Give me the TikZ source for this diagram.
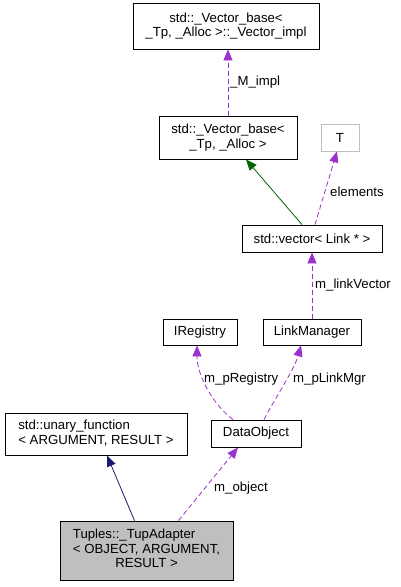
\documentclass[tikz,border=0pt]{standalone}
\usepackage{fontspec}
\setmainfont{Liberation Sans}
\usetikzlibrary{arrows.meta}
\definecolor{edgepurple}{HTML}{9A32CD}
\definecolor{edgegreen}{HTML}{006400}
\definecolor{edgenavy}{HTML}{191970}
\definecolor{boxgray}{HTML}{BFBFBF}
\begin{document}
\begin{tikzpicture}[x=1pt,y=1pt,
  every node/.style={font=\fontsize{13.2}{14.5}\selectfont},
  cls/.style={draw=black,line width=0.8pt,rectangle,inner sep=0pt,anchor=center},
  usage/.style={draw=edgepurple,line width=0.8pt,dash pattern=on 5pt off 3pt,fill=none},
  inherit/.style={line width=0.8pt},
  lbl/.style={anchor=west,inner sep=0pt}]
\useasboundingbox (0,0) rectangle (400,-587);

\node[cls,minimum width=186pt,minimum height=46pt,align=center] (impl) at (226,-26) {std::\_Vector\_base<\\\_Tp, \_Alloc >::\_Vector\_impl};
\node[cls,minimum width=138pt,minimum height=43pt,align=center] (base) at (228,-137.5) {std::\_Vector\_base<\\\_Tp, \_Alloc >};
\node[cls,draw=boxgray,minimum width=38pt,minimum height=27pt] (T) at (340,-137.5) {T};
\node[cls,minimum width=140pt,minimum height=27pt] (vec) at (312,-238.5) {std::vector< Link * >};
\node[cls,minimum width=74pt,minimum height=26pt] (ireg) at (200,-332) {IRegistry};
\node[cls,minimum width=98pt,minimum height=26pt] (lm) at (312,-332) {LinkManager};
\node[cls,minimum width=182pt,minimum height=42pt] (un) at (96,-434) {\begin{tabular}{@{}l@{}}std::unary\_function\\< ARGUMENT, RESULT >\end{tabular}};
\node[cls,minimum width=90pt,minimum height=27pt] (do) at (256,-433.5) {DataObject};
\node[cls,fill=boxgray,minimum width=173pt,minimum height=59pt] (tup) at (146.5,-550.5) {\begin{tabular}{@{}l@{}}Tuples::\_TupAdapter\\< OBJECT, ARGUMENT,\\\multicolumn{1}{@{}c@{}}{RESULT >}\end{tabular}};

\draw[usage,-{Triangle[length=11pt,width=9pt,fill=edgepurple]}] (base.north) -- (base.north |- impl.south);
\node[lbl] (limpl) at (230,-82) {\_M\_impl};

\draw[inherit,draw=edgegreen,-{Triangle[length=11pt,width=9pt,fill=edgegreen]}] ([xshift=-10pt]vec.north) -- ([xshift=18pt]base.south);

\draw[usage,-{Triangle[length=11pt,width=9pt,fill=edgepurple]}] ([xshift=3pt]vec.north) -- ([xshift=-3pt]T.south);
\node[lbl] (lel) at (330,-192) {elements};

\draw[usage,-{Triangle[length=11pt,width=9pt,fill=edgepurple]}] (lm.north) -- (vec.south);
\node[lbl] (llv) at (315,-285) {m\_linkVector};

\draw[usage,-{Triangle[length=11pt,width=9pt,fill=edgepurple]}] ([xshift=-23pt]do.north) .. controls ([xshift=-43pt,yshift=15pt]do.north) and ([xshift=-3pt,yshift=-30pt]ireg.south) .. ([xshift=-3pt]ireg.south);
\node[lbl] (lpr) at (204,-379) {m\_pRegistry};

\draw[usage,-{Triangle[length=11pt,width=9pt,fill=edgepurple]}] ([xshift=8pt]do.north) .. controls ([xshift=18pt,yshift=20pt]do.north) and ([xshift=-18pt,yshift=-25pt]lm.south) .. ([xshift=-11pt]lm.south);
\node[lbl] (lplm) at (293,-379) {m\_pLinkMgr};

\draw[inherit,draw=edgenavy,-{Triangle[length=11pt,width=9pt,fill=edgenavy]}] ([xshift=-12pt]tup.north) -- ([xshift=11pt]un.south);

\draw[usage,-{Triangle[length=11pt,width=9pt,fill=edgepurple]}] ([xshift=32pt]tup.north) -- ([xshift=-18pt]do.south);
\node[lbl] (lob) at (214,-488) {m\_object};
\end{tikzpicture}
\end{document}
